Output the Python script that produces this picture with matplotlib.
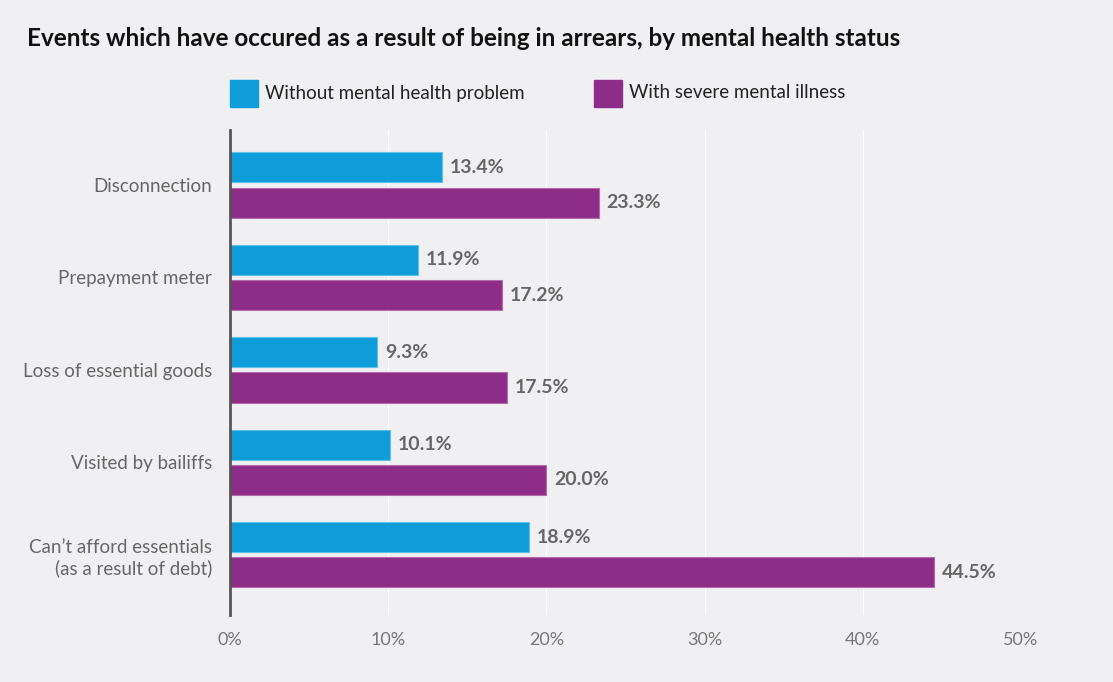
import matplotlib
matplotlib.use("Agg")
import matplotlib.pyplot as plt
import numpy as np
from matplotlib.patches import Rectangle

categories = ["Disconnection", "Prepayment meter", "Loss of essential goods",
              "Visited by bailiffs", "Can\u2019t afford essentials\n(as a result of debt)"]
without_mhp = [13.4, 11.9, 9.3, 10.1, 18.9]
severe_mi = [23.3, 17.2, 17.5, 20.0, 44.5]
series_names = ["Without mental health problem", "With severe mental illness"]
xticks = [0, 10, 20, 30, 40, 50]

BG = "#f0f0f2"
BLUE = "#0f9dd9"
PURPLE = "#8e2d87"
GREY = "#666666"

plt.rcParams['font.family'] = ['Lato', 'DejaVu Sans']

fig = plt.figure(figsize=(11.13, 6.82), dpi=100, facecolor=BG)
ax = fig.add_axes([230/1113, 1 - 615/682, 791/1113, 485/682], facecolor=BG)

y = np.arange(len(categories))
h = 0.325
off = 0.19
ax.barh(y - off, without_mhp, height=h, color=BLUE, edgecolor="#5cc0ea", linewidth=0.8, zorder=3)
ax.barh(y + off, severe_mi, height=h, color=PURPLE, edgecolor="#b46aae", linewidth=0.8, zorder=3)

for yi, v in zip(y, without_mhp):
    ax.text(v + 0.5, yi - off, f"{v:.1f}%", va="center", ha="left", fontsize=14,
            fontweight="bold", color=GREY)
for yi, v in zip(y, severe_mi):
    ax.text(v + 0.5, yi + off, f"{v:.1f}%", va="center", ha="left", fontsize=14,
            fontweight="bold", color=GREY)

ax.set_xlim(0, 50)
ax.set_ylim(4.65, -0.595)
ax.set_xticks(xticks)
ax.set_xticklabels([f"{t}%" for t in xticks], fontsize=13, color="#777777")
ax.set_yticks(y)
ax.set_yticklabels(categories, fontsize=13.5, color=GREY, linespacing=1.25)
ax.tick_params(axis="both", length=0)
ax.tick_params(axis="x", pad=12)
ax.tick_params(axis="y", pad=13)
ax.grid(axis="x", color="white", linewidth=0.9, zorder=0)
for s in ["top", "right", "bottom"]:
    ax.spines[s].set_visible(False)
ax.spines["left"].set_color("#555555")
ax.spines["left"].set_linewidth(2)
ax.spines["left"].set_zorder(4)

fig.text(27/1113, 1 - 38/682, "Events which have occured as a result of being in arrears, by mental health status",
         fontsize=17.5, fontweight="bold", color="#111111", va="center", ha="left")

# legend
for x0, col, name in [(230, BLUE, series_names[0]), (594, PURPLE, series_names[1])]:
    fig.patches.append(Rectangle((x0/1113, 1 - 107/682), 28/1113, 27/682,
                                 transform=fig.transFigure, color=col))
    fig.text((x0 + 35)/1113, 1 - 93/682, name, fontsize=13.5, color="#222222",
             va="center", ha="left")

fig.savefig("out.png", dpi=100, facecolor=BG)
